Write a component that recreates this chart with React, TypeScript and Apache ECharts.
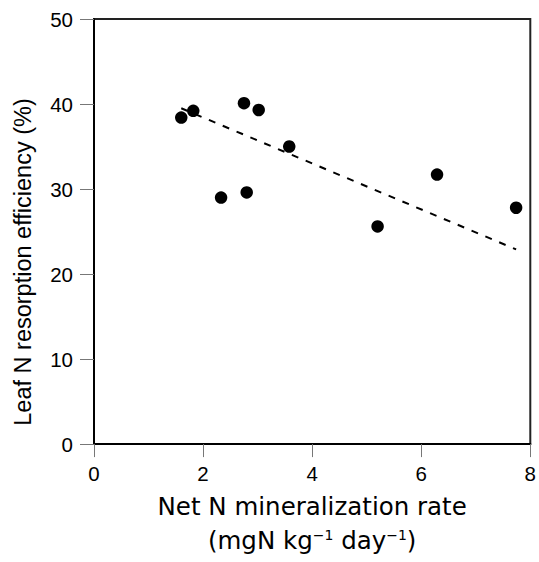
import React, { useEffect, useRef } from "react";
import * as echarts from "echarts";

const mineralization = [1.6, 1.82, 2.33, 2.75, 2.8, 3.02, 3.58, 5.2, 6.29, 7.74];
const resorption = [38.4, 39.2, 29.0, 40.1, 29.6, 39.3, 35.0, 25.6, 31.7, 27.8];
const fitX = [1.6, 7.74];
const fitY = [39.5, 22.9];

const ARIAL = '"Liberation Sans", Arial, sans-serif';
const GOTHIC = '"DejaVu Sans", "Noto Sans CJK JP", sans-serif';

export default function App() {
  const ref = useRef<HTMLDivElement>(null);
  useEffect(() => {
    const chart = echarts.init(ref.current!, undefined, { renderer: "svg" });
    chart.setOption({
      animation: false,
      backgroundColor: "#fff",
      grid: {
        left: 94,
        right: 6,
        top: 19,
        bottom: 107,
        show: true,
        borderColor: "#222",
        borderWidth: 2,
      },
      xAxis: {
        type: "value",
        min: 0,
        max: 8,
        interval: 2,
        name: "Net N mineralization rate\n(mgN kg{s|−1} day{s|−1})",
        nameLocation: "middle",
        nameGap: 43,
        nameTextStyle: {
          fontFamily: GOTHIC,
          fontSize: 24.5,
          color: "#000",
          lineHeight: 34,
          verticalAlign: "top",
          rich: {
            s: {
              fontFamily: GOTHIC,
              fontSize: 14,
              color: "#000",
              lineHeight: 14,
              verticalAlign: "top",
              padding: [5, 0, 0, 0],
            },
          },
        },
        axisLine: { onZero: false, lineStyle: { color: "#000", width: 2 } },
        axisTick: { show: true, length: 13, lineStyle: { color: "#777", width: 1 } },
        axisLabel: { fontFamily: ARIAL, fontSize: 20.5, color: "#000", margin: 19 },
        splitLine: { show: false },
      },
      yAxis: {
        type: "value",
        min: 0,
        max: 50,
        interval: 10,
        axisLine: { onZero: false, lineStyle: { color: "#000", width: 2 } },
        axisTick: { show: true, length: 14, lineStyle: { color: "#777", width: 1 } },
        axisLabel: { fontFamily: ARIAL, fontSize: 20.5, color: "#000", margin: 21 },
        splitLine: { show: false },
      },
      graphic: [
        {
          type: "text",
          x: 23,
          y: 262,
          rotation: Math.PI / 2,
          style: {
            text: "Leaf N resorption efficiency (%)",
            fontFamily: ARIAL,
            fontSize: 23.5,
            fill: "#000",
            align: "center",
            verticalAlign: "middle",
          },
        },
      ],
      series: [
        {
          type: "line",
          data: fitX.map((x, i) => [x, fitY[i]]),
          symbol: "none",
          lineStyle: { color: "#000", width: 2, type: [7, 8] },
          z: 2,
        },
        {
          type: "scatter",
          data: mineralization.map((x, i) => [x, resorption[i]]),
          symbol: "circle",
          symbolSize: 12.5,
          itemStyle: { color: "#000", opacity: 1 },
          z: 3,
        },
      ],
    });
    return () => chart.dispose();
  }, []);
  return (
    <div
      ref={ref}
      style={{ position: "absolute", left: 0, top: 0, width: 539, height: 562 }}
    />
  );
}
